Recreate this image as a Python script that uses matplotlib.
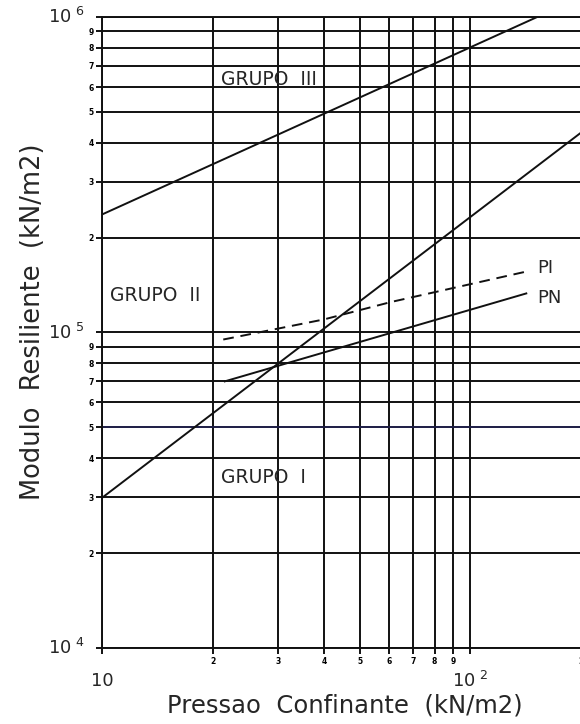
#!/usr/bin/env python3
"""Modulo resiliente x pressao confinante (log-log), grupos I/II/III e curvas PI / PN."""
import matplotlib
matplotlib.use("Agg")
import matplotlib.pyplot as plt
import matplotlib.transforms as mtransforms

# limites entre grupos (retas em escala log-log)
lim_g3_x = [10, 152]
lim_g3_y = [2.37e5, 1.0e6]
lim_g1_x = [10, 200]
lim_g1_y = [3.0e4, 4.3e5]

# curvas dos solos
pn_x = [21.5, 142]
pn_y = [7.0e4, 1.33e5]
pi_x = [21.3, 40, 61, 142]
pi_y = [9.5e4, 1.1e5, 1.25e5, 1.56e5]

x_minor = [20, 30, 40, 50, 60, 70, 80, 90, 200]
x_minor_labels = ["2", "3", "4", "5", "6", "7", "8", "9", "2"]
x_major = [10, 100]
x_major_labels = ["10", r"$10^{\ 2}$"]
y_minor = [2e4, 3e4, 4e4, 5e4, 6e4, 7e4, 8e4, 9e4,
           2e5, 3e5, 4e5, 5e5, 6e5, 7e5, 8e5, 9e5]
y_minor_labels = ["2", "3", "4", "5", "6", "7", "8", "9"] * 2
y_major = [1e4, 1e5, 1e6]
y_major_labels = [r"$10^{\ 4}$", r"$10^{\ 5}$", r"$10^{\ 6}$"]

LW = 1.4
INK = "#111111"
TXT = "#262626"

fig = plt.figure(figsize=(5.8, 7.24), dpi=100)
ax = fig.add_axes([0.1767, 0.105, 0.825, 0.8715])
ax.set_xscale("log")
ax.set_yscale("log")
ax.set_xlim(10, 200)
ax.set_ylim(1e4, 1e6)

# malha
for v in x_major + x_minor:
    ax.axvline(v, color=INK, lw=LW, zorder=1)
for v in y_major + y_minor:
    c = "#1c1c44" if v == 5e4 else INK
    ax.axhline(v, color=c, lw=LW, zorder=1)

ax.plot(lim_g3_x, lim_g3_y, color=INK, lw=LW, zorder=3)
ax.plot(lim_g1_x, lim_g1_y, color=INK, lw=LW, zorder=3)
ax.plot(pn_x, pn_y, color=INK, lw=LW, zorder=3)
ax.plot(pi_x, pi_y, color=INK, lw=LW, ls=(0, (5.5, 3.5)), zorder=3)

for s in ax.spines.values():
    s.set_linewidth(LW)
    s.set_color(INK)

ax.set_xticks(x_major + x_minor)
ax.set_xticklabels([""] * len(x_major) + x_minor_labels)
ax.set_yticks(y_major + y_minor)
ax.set_yticklabels([""] * len(y_major) + y_minor_labels)
ax.xaxis.set_minor_locator(matplotlib.ticker.NullLocator())
ax.yaxis.set_minor_locator(matplotlib.ticker.NullLocator())
ax.tick_params(direction="out", length=4.5, width=LW, color=INK, labelsize=5.5, pad=2)
for lbl in ax.get_xticklabels() + ax.get_yticklabels():
    lbl.set_fontweight("bold")

# rotulos das decadas
ty = mtransforms.blended_transform_factory(ax.transAxes, ax.transData)
for v, t in zip(y_major, y_major_labels):
    ax.text(-0.038, v, t, transform=ty, ha="right", va="center", fontsize=13, color=TXT)
tx = mtransforms.blended_transform_factory(ax.transData, ax.transAxes)
for v, t in zip(x_major, x_major_labels):
    ax.text(v, -0.052, t, transform=tx, ha="center", va="center", fontsize=13, color=TXT)

# textos das regioes
ax.text(21, 6.35e5, "GRUPO  III", fontsize=13.5, ha="left", va="center", color=TXT)
ax.text(10.5, 1.31e5, "GRUPO  II", fontsize=13.5, ha="left", va="center", color=TXT)
ax.text(21, 3.46e4, "GRUPO  I", fontsize=13.5, ha="left", va="center", color=TXT)
ax.text(152, 1.6e5, "PI", fontsize=13, ha="left", va="center", color=TXT)
ax.text(152, 1.29e5, "PN", fontsize=13, ha="left", va="center", color=TXT)

fig.text(33 / 580, 1 - 322 / 724, "Modulo  Resiliente  (kN/m2)", rotation=90,
         ha="center", va="center", fontsize=18.5, color=TXT)
fig.text(345 / 580, 1 - 706 / 724, "Pressao  Confinante  (kN/m2)",
         ha="center", va="center", fontsize=17.5, color=TXT)

fig.savefig("out.png", dpi=100)
